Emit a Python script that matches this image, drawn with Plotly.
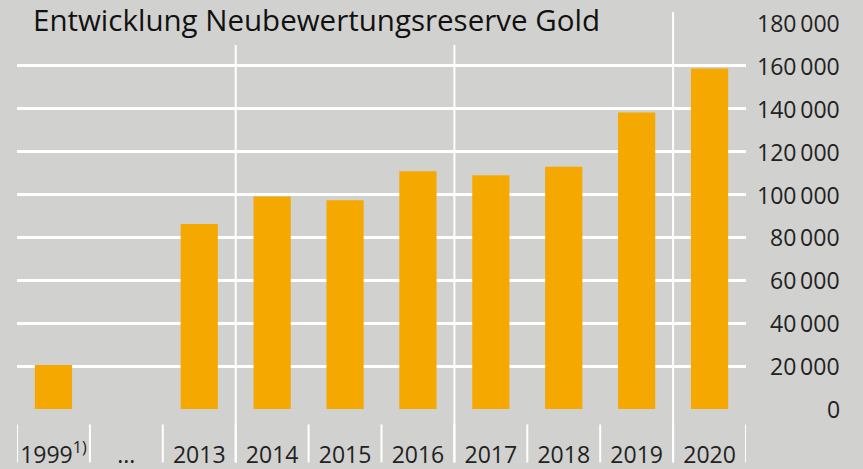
import plotly.graph_objects as go

categories = ["1999", "...", "2013", "2014", "2015", "2016", "2017", "2018", "2019", "2020"]
tick_labels = ["1999<sup>1)</sup>", "...", "2013", "2014", "2015", "2016", "2017", "2018", "2019", "2020"]
values = [20500, None, 86300, 99100, 97400, 110900, 109000, 113000, 138300, 158800]
y_ticks = [0, 20000, 40000, 60000, 80000, 100000, 120000, 140000, 160000, 180000]
y_tick_labels = ["0", "20\u2009000", "40\u2009000", "60\u2009000", "80\u2009000", "100\u2009000",
                 "120\u2009000", "140\u2009000", "160\u2009000", "180\u2009000"]
title = "Entwicklung Neubewertungsreserve Gold"

W, H = 863, 469
L, R = 16.5, 746.0
T, B = 23.0, 409.5
pw, ph = R - L, B - T

def px_x(x):
    return (x - L) / pw

def px_y(y):
    return (B - y) / ph

BG = "#d1d1cf"
BAR = "#f5a800"
TXT = "#222222"

fig = go.Figure()
fig.add_trace(go.Bar(x=categories, y=values, marker=dict(color=BAR, line=dict(width=0)),
                     width=0.51, hoverinfo="skip"))

shapes = []
# short separators under the axis
for i in range(len(categories) + 1):
    shapes.append(dict(type="line", xref="x", yref="paper", x0=i - 0.5, x1=i - 0.5,
                       y0=px_y(425), y1=px_y(463), line=dict(color="white", width=2), layer="above"))
# full-height group separators
for b in [2.5, 5.5, 8.5]:
    shapes.append(dict(type="line", xref="x", yref="paper", x0=b, x1=b,
                       y0=px_y(463), y1=px_y(12), line=dict(color="white", width=2), layer="above"))
# title background box
shapes.append(dict(type="rect", xref="paper", yref="paper", x0=px_x(21), x1=px_x(619),
                   y0=px_y(45), y1=px_y(-2), fillcolor=BG, line=dict(width=0), layer="above"))

annotations = [dict(text=title, xref="paper", yref="paper", x=px_x(31), y=px_y(19),
                    xanchor="left", yanchor="middle", showarrow=False,
                    font=dict(family="Open Sans", size=29.5, color="#111111"))]
for v, t in zip(y_ticks, y_tick_labels):
    annotations.append(dict(text=t, xref="paper", yref="y", x=px_x(842), y=v,
                            xanchor="right", yanchor="middle", showarrow=False,
                            font=dict(family="Open Sans", size=23, color=TXT)))

fig.update_layout(
    width=W, height=H,
    margin=dict(l=L, r=W - R, t=T, b=H - B, pad=0, autoexpand=False),
    paper_bgcolor=BG, plot_bgcolor=BG,
    showlegend=False,
    font=dict(family="Open Sans", size=23, color=TXT),
    xaxis=dict(type="category", categoryorder="array", categoryarray=categories,
               tickvals=categories, ticktext=tick_labels, range=[-0.5, 9.5],
               showgrid=False, zeroline=False, showline=False,
               ticks="outside", ticklen=25, tickcolor="rgba(0,0,0,0)",
               tickfont=dict(family="Open Sans", size=23, color=TXT)),
    yaxis=dict(range=[0, 180000], tickvals=y_ticks, showticklabels=False,
               showgrid=True, gridcolor="white", gridwidth=3, zeroline=False, showline=False),
    shapes=shapes,
    annotations=annotations,
)

fig.write_html("out.html", config={"displayModeBar": False, "staticPlot": True},
               post_script="document.body.style.margin='0';document.body.style.overflow='hidden';")
